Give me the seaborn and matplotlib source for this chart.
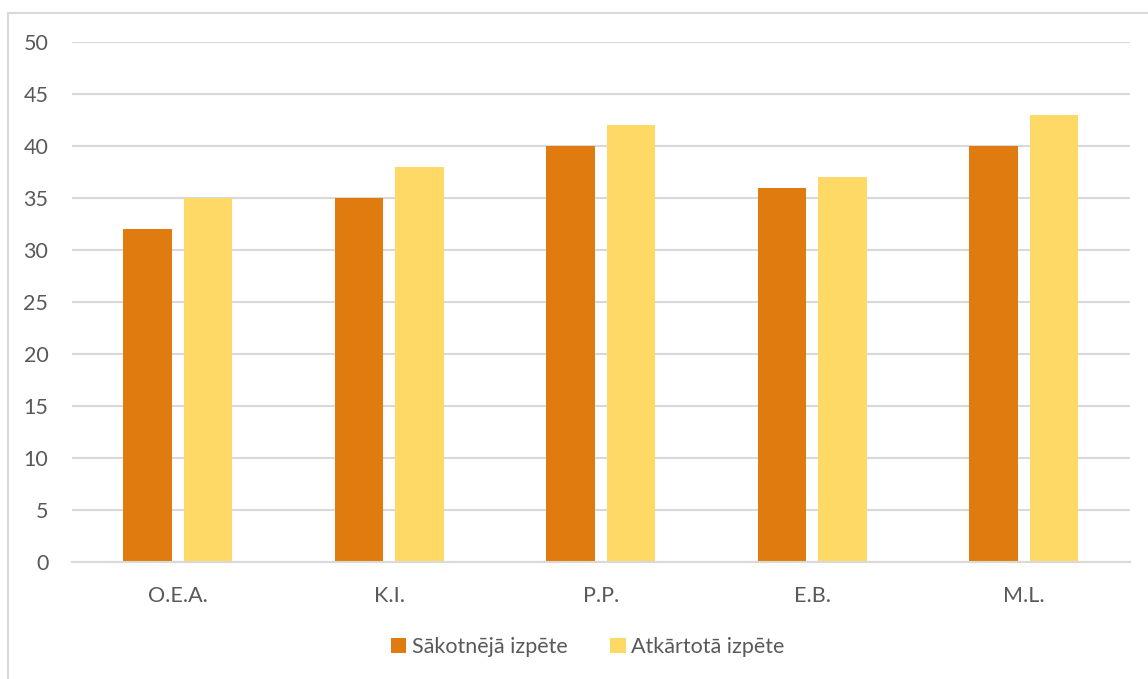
import matplotlib
matplotlib.use("Agg")
import matplotlib.pyplot as plt
from matplotlib.patches import Rectangle
import seaborn as sns
import pandas as pd

categories = ["O.E.A.", "K.I.", "P.P.", "E.B.", "M.L."]
series_names = ["Sākotnējā izpēte", "Atkārtotā izpēte"]
initial_values = [32, 35, 40, 36, 40]
repeat_values = [35, 38, 42, 37, 43]
y_ticks = [0, 5, 10, 15, 20, 25, 30, 35, 40, 45, 50]

colors = ["#E07C0F", "#FED966"]
text_color = "#595959"
grid_color = "#D9D9D9"

df = pd.DataFrame({
    "category": categories * 2,
    "series": [series_names[0]] * len(categories) + [series_names[1]] * len(categories),
    "value": initial_values + repeat_values,
})

sns.set_theme(style="white")
plt.rcParams["font.family"] = ["Lato", "DejaVu Sans"]

fig = plt.figure(figsize=(11.48, 6.79), dpi=100)
ax = fig.add_axes([0.0627, 0.1723, 0.9213, 0.7657])

sns.barplot(data=df, x="category", y="value", hue="series", order=categories,
            hue_order=series_names, palette=colors, width=0.572, gap=0.2,
            saturation=1, linewidth=0, ax=ax, legend=True)

ax.set_ylim(0, 50)
ax.set_xlim(-0.5, len(categories) - 0.5)
ax.set_yticks(y_ticks)
ax.set_yticklabels([str(t) for t in y_ticks])
ax.yaxis.grid(True, color=grid_color, linewidth=1.5)
ax.set_axisbelow(True)
for side in ["top", "right", "left"]:
    ax.spines[side].set_visible(False)
ax.spines["bottom"].set_color(grid_color)
ax.spines["bottom"].set_linewidth(1.5)
ax.tick_params(axis="both", length=0, labelsize=15.5, colors=text_color)
ax.tick_params(axis="y", pad=17)
ax.tick_params(axis="x", pad=17)
ax.set_xlabel("")
ax.set_ylabel("")

handles, labels = ax.get_legend_handles_labels()
ax.legend_.remove()
fig.legend(handles, labels, loc="center", bbox_to_anchor=(0.512, 0.047),
           ncol=2, frameon=False, fontsize=15.5, labelcolor=text_color,
           handlelength=0.7, handleheight=0.7, handletextpad=0.25,
           columnspacing=2.0)

# Light chart-area frame
fig.patches.append(Rectangle((8 / 1148, -0.05), 1.1, 1 - 13 / 679 + 0.05,
                             transform=fig.transFigure, fill=False,
                             edgecolor=grid_color, linewidth=1.5))

fig.savefig("out.png", dpi=100)
